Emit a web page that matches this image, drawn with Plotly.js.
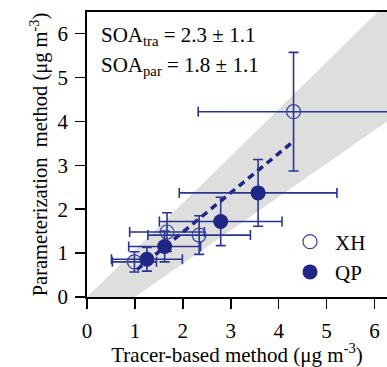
<!DOCTYPE html>
<html>
<head>
<meta charset="utf-8">
<script src="https://cdn.plot.ly/plotly-3.0.1.min.js"></script>
<style>html,body{margin:0;padding:0;background:#fff;}#chart{width:387px;height:367px;}</style>
</head>
<body>
<div id="chart"></div>
<script>
// XH site (open circles)
var xhX = [0.99, 1.67, 2.34, 4.31];
var xhY = [0.80, 1.48, 1.41, 4.22];
var xhXerr = [0.46, 0.78, 1.07, 1.99];
var xhYerr = [0.23, 0.44, 0.44, 1.35];
// QP site (filled circles)
var qpX = [1.25, 1.62, 2.79, 3.57];
var qpY = [0.86, 1.15, 1.72, 2.37];
var qpXerr = [0.74, 0.75, 1.28, 1.645];
var qpYerr = [0.27, 0.35, 0.55, 0.76];
// dashed fit line endpoints
var fitX = [1.04, 4.27];
var fitY = [0.62, 3.51];
// gray band (upper slope line through origin, lower line)
var bandX = [0, 7, 7, 1];
var bandY = [0, 7.49, 4.56, 0];

var blue = '#2a3592';
var navy = '#1f2683';
var serif = 'Liberation Serif';

var traces = [
  {x: bandX, y: bandY, type: 'scatter', mode: 'none', fill: 'toself',
   fillcolor: '#dedede', showlegend: false, hoverinfo: 'skip'},
  {x: xhX, y: xhY, type: 'scatter', mode: 'markers', name: 'XH',
   marker: {symbol: 'circle-open', size: 14, color: '#3b44a6', line: {width: 1.2}},
   error_x: {type: 'data', array: xhXerr, color: blue, thickness: 1.6, width: 5},
   error_y: {type: 'data', array: xhYerr, color: blue, thickness: 1.6, width: 5}},
  {x: fitX, y: fitY, type: 'scatter', mode: 'lines', showlegend: false,
   line: {color: navy, width: 3.5, dash: '7px,5px'}},
  {x: qpX, y: qpY, type: 'scatter', mode: 'markers', name: 'QP',
   marker: {symbol: 'circle', size: 15, color: navy},
   error_x: {type: 'data', array: qpXerr, color: blue, thickness: 1.6, width: 5},
   error_y: {type: 'data', array: qpYerr, color: blue, thickness: 1.6, width: 5}}
];

var layout = {
  width: 387, height: 367,
  margin: {l: 87, r: 0, t: 12, b: 70},
  paper_bgcolor: '#fff', plot_bgcolor: '#fff',
  font: {family: serif, size: 20, color: '#000'},
  xaxis: {range: [0, 6.26], tickvals: [0,1,2,3,4,5,6], showgrid: false, zeroline: false,
          showline: true, linecolor: '#000', linewidth: 1.8, mirror: true,
          ticks: 'outside', ticklen: 10, tickwidth: 1.5, tickcolor: '#000',
          ticklabelstandoff: 4,
          tickfont: {family: serif, size: 21},
          title: {text: 'Tracer-based method (μg m<sup>-3</sup>)', font: {family: serif, size: 21}, standoff: 0}},
  yaxis: {range: [0, 6.49], tickvals: [0,1,2,3,4,5,6], showgrid: false, zeroline: false,
          showline: true, linecolor: '#000', linewidth: 1.8,
          ticks: 'outside', ticklen: 10, tickwidth: 1.5, tickcolor: '#000',
          ticklabelstandoff: 3,
          tickfont: {family: serif, size: 21},
          title: {text: 'Parameterization  method (μg m<sup>-3</sup>)', font: {family: serif, size: 20.5}, standoff: 4}},
  legend: {x: 0.66, y: 0.265, xanchor: 'left', yanchor: 'top', bgcolor: 'rgba(0,0,0,0)',
           font: {family: serif, size: 21}, itemwidth: 40, tracegroupgap: 0},
  annotations: [
    {xref: 'paper', yref: 'paper', x: 0.04, y: 0.968, xanchor: 'left', yanchor: 'top', showarrow: false,
     align: 'left', text: 'SOA<sub>tra</sub> = 2.3 ± 1.1', font: {family: serif, size: 21}},
    {xref: 'paper', yref: 'paper', x: 0.04, y: 0.862, xanchor: 'left', yanchor: 'top', showarrow: false,
     align: 'left', text: 'SOA<sub>par</sub> = 1.8 ± 1.1', font: {family: serif, size: 21}}
  ]
};

Plotly.newPlot('chart', traces, layout, {displayModeBar: false, staticPlot: true});
</script>
</body>
</html>
